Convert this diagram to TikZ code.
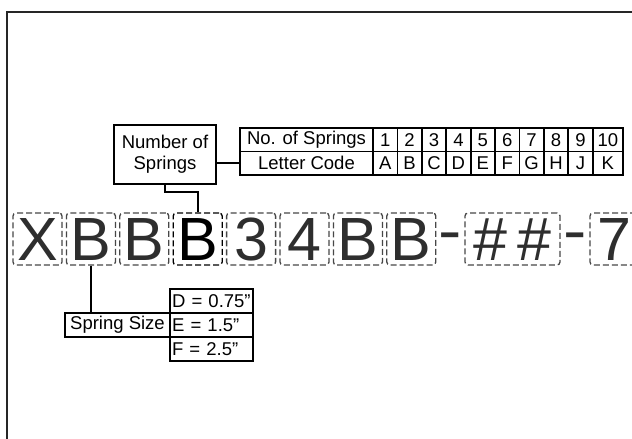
\documentclass[tikz,border=0pt]{standalone}
\usepackage{fontspec}
\setmainfont{Liberation Sans}
\begin{document}
\begin{tikzpicture}[x=1pt,y=-1pt,
  lbl/.style={font=\fontsize{18.5}{21}\selectfont},
  cell/.style={lbl, draw=black, line width=1.8pt, minimum height=23.5pt, inner sep=0pt, outer sep=0pt, anchor=north west},
  lcell/.style={lbl, draw=black, line width=1.6pt, minimum height=24pt, inner xsep=2pt, inner ysep=0pt, outer sep=0pt, text width=79pt, align=left, anchor=north west},
  outer/.style={line width=2.4pt, black},
  big/.style={font=\fontsize{61}{61}\selectfont, text=black!82},
  dbox/.style={big, draw=black!72, dash pattern=on 6pt off 3pt, line width=1.3pt, rounded corners=3pt, minimum width=49pt, minimum height=52pt, inner sep=0pt, text height=43.7pt, text depth=0pt},
  hyph/.style={big, anchor=base, inner sep=0pt, xscale=1.15},
  conn/.style={line width=1.9pt, black, line join=miter},
  frame/.style={line width=2.2pt, black!85}]
\useasboundingbox (0,0) rectangle (632,439);
\clip (0,0) rectangle (632,439);
\fill[white] (0,0) rectangle (632,439);
\draw[frame] (7,12) rectangle (680,480);

% code characters
\node[dbox] (k1) at (37.5,239) {X};
\node[dbox] (k2) at (90.9,239) {B};
\node[dbox] (k3) at (144.3,239) {B};
\node[dbox, draw=black, text=black] (k4) at (197.7,239) {B};
\node[dbox] (k5) at (251.1,239) {3};
\node[dbox] (k6) at (304.5,239) {4};
\node[dbox] (k7) at (357.9,239) {B};
\node[dbox] (k8) at (411.3,239) {B};
\node[hyph] (d1) at (450,251.5) {-};
\node[dbox, minimum width=95pt] (kh) at (512.5,239) {\#\kern10pt\#};
\node[hyph] (d2) at (575,251.5) {-};
\node[dbox] (k9) at (614.5,239) {7};

% number of springs table
\node[cell, minimum width=133pt] (ns) at (240,128) {No. of Springs};
\node[cell, minimum width=133pt] (lc) at (240,151.5) {Letter Code};
\foreach \n/\l [count=\i from 0] in {1/A,2/B,3/C,4/D,5/E,6/F,7/G,8/H,9/J}{
  \node[cell, minimum width=24.4pt] (n\n) at ({373+\i*24.4},128) {\n};
  \node[cell, minimum width=24.4pt] (l\n) at ({373+\i*24.4},151.5) {\l};
}
\node[cell, minimum width=30.4pt] (n10) at (592.6,128) {10};
\node[cell, minimum width=30.4pt] (l10) at (592.6,151.5) {K};
\draw[outer] (ns.north west) rectangle (l10.south east);

\node[lbl, draw, outer, minimum width=102pt, minimum height=59pt, align=center, inner sep=0pt, outer sep=0pt, anchor=north west] (nos) at (114,125) {Number of\\Springs};
\draw[conn] (nos.east |- lc.west) -- (lc.west);
\coordinate (kink) at (0,192);
\draw[conn] (nos.south) -- (nos.south |- kink) -- (k4.north |- kink) -- (k4.north);

% spring size table
\node[lcell] (sd) at (170,289) {D = 0.75”};
\node[lcell] (se) at (170,313) {E = 1.5”};
\node[lcell] (sf) at (170,337) {F = 2.5”};
\draw[outer] (sd.north west) rectangle (sf.south east);
\node[lbl, draw, outer, minimum width=105pt, minimum height=24pt, inner sep=0pt, outer sep=0pt, anchor=north east] (ss) at (170,313) {Spring Size};
\draw[conn] (k2.south) -- (k2.south |- ss.north);
\end{tikzpicture}
\end{document}
